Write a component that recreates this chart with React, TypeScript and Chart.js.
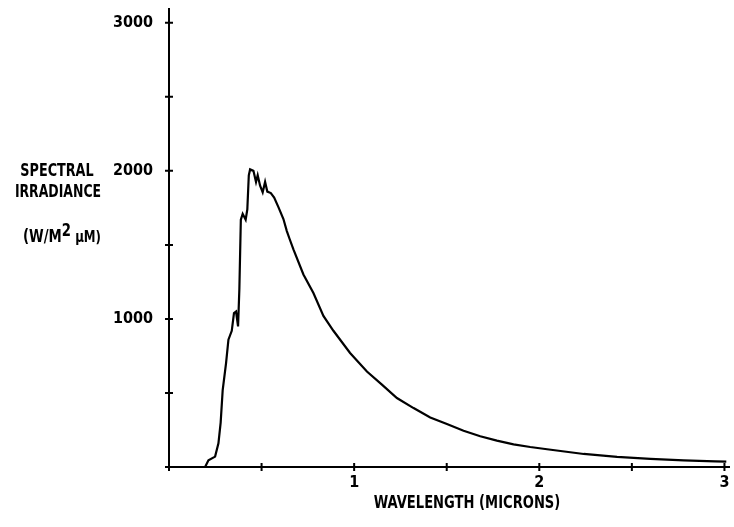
import React, { useEffect, useRef } from "react";
import { Chart, registerables } from "chart.js";

Chart.register(...registerables);

// Wavelength in microns
const wavelength = [
  0.195, 0.213, 0.249, 0.267, 0.279, 0.29, 0.308, 0.321, 0.339, 0.351, 0.362, 0.373,
  0.38, 0.388, 0.398, 0.414, 0.423, 0.431, 0.438, 0.456, 0.47, 0.479, 0.492, 0.506,
  0.519, 0.531, 0.55, 0.568, 0.591, 0.618, 0.636, 0.65, 0.672, 0.726, 0.78, 0.834,
  0.888, 0.978, 1.069, 1.15, 1.231, 1.321, 1.411, 1.501, 1.591, 1.681, 1.771, 1.861,
  1.951, 2.042, 2.24, 2.42, 2.6, 2.78, 2.95, 3.01,
];

// Spectral irradiance, W/m^2 um
const irradiance = [
  0, 45, 70, 160, 300, 520, 700, 860, 920, 1040, 1050, 950,
  1200, 1670, 1710, 1670, 1740, 1970, 2010, 2000, 1925, 1970, 1900, 1855,
  1925, 1860, 1850, 1820, 1755, 1675, 1595, 1545, 1470, 1300, 1175, 1020,
  920, 770, 645, 556, 466, 398, 335, 290, 245, 208, 178, 153,
  135, 120, 88, 68, 55, 45, 38, 36,
];

const xTicks = [0, 0.5, 1, 1.5, 2, 2.5, 3];
const yTicks = [0, 500, 1000, 1500, 2000, 2500, 3000];
const xLabelled = [1, 2, 3];
const yLabelled = [1000, 2000, 3000];

const yTitleLine1 = "SPECTRAL";
const yTitleLine2 = "IRRADIANCE";
const yUnitsA = "(W/M";
const yUnitsSup = "2";
const yUnitsB = " \u00B5M)";
const xTitle = "WAVELENGTH (MICRONS)";

const FONT_FAMILY = "'DejaVu Sans Condensed', 'DejaVu Sans', sans-serif";

const axesPlugin = {
  id: "crossAxes",
  afterDraw(chart: any) {
    const { ctx, scales } = chart;
    const xs = scales.x;
    const ys = scales.y;
    const ax = xs.left;
    const ay = ys.bottom;
    ctx.save();
    ctx.strokeStyle = "#000";
    ctx.lineWidth = 2;
    ctx.lineCap = "butt";
    ctx.beginPath();
    ctx.moveTo(ax, ys.top);
    ctx.lineTo(ax, ay);
    ctx.lineTo(xs.right, ay);
    ctx.stroke();
    ctx.beginPath();
    for (const v of yTicks) {
      const p = ys.getPixelForValue(v);
      ctx.moveTo(ax - 4, p);
      ctx.lineTo(ax + 4, p);
    }
    for (const v of xTicks) {
      const p = xs.getPixelForValue(v);
      ctx.moveTo(p, ay - 4);
      ctx.lineTo(p, ay + 4);
    }
    ctx.stroke();
    ctx.restore();
  },
};

const textStyle = (sx: number): React.CSSProperties => ({
  position: "absolute",
  transform: `translate(-50%, -50%) scaleX(${sx})`,
  whiteSpace: "nowrap",
  lineHeight: 1,
  fontFamily: FONT_FAMILY,
  fontWeight: "bold",
  fontSize: 18,
  color: "#000",
});

const zeroPad = (s: any) => {
  s.paddingTop = 0;
  s.paddingBottom = 0;
  s.paddingLeft = 0;
  s.paddingRight = 0;
};

export default function App() {
  const canvasRef = useRef<HTMLCanvasElement | null>(null);

  useEffect(() => {
    if (!canvasRef.current) return;
    const points = wavelength.map((x, i) => ({ x, y: irradiance[i] }));
    const chart = new Chart(canvasRef.current, {
      type: "line",
      data: {
        datasets: [
          {
            data: points,
            borderColor: "#000",
            borderWidth: 2.2,
            pointRadius: 0,
            tension: 0,
            fill: false,
          },
        ],
      },
      options: {
        animation: false,
        responsive: false,
        devicePixelRatio: 1,
        layout: { padding: { top: 8, right: 4, left: 0, bottom: 0 } },
        plugins: {
          legend: { display: false },
          tooltip: { enabled: false },
          title: { display: false },
        },
        scales: {
          x: {
            type: "linear",
            min: 0,
            max: 3.03,
            afterBuildTicks: (s: any) => {
              s.ticks = xTicks.map((value) => ({ value }));
            },
            afterFit: (s: any) => {
              s.height = 60;
              zeroPad(s);
            },
            grid: { display: false, drawTicks: false },
            border: { display: false },
            ticks: {
              autoSkip: false,
              maxRotation: 0,
              padding: 6,
              color: "#000",
              font: { family: FONT_FAMILY, size: 16, weight: "bold" },
              callback: (v: any) => (xLabelled.includes(Number(v)) ? String(v) : ""),
            },
          },
          y: {
            type: "linear",
            min: 0,
            max: 3100,
            afterBuildTicks: (s: any) => {
              s.ticks = yTicks.map((value) => ({ value }));
            },
            afterFit: (s: any) => {
              s.width = 169;
              zeroPad(s);
            },
            grid: { display: false, drawTicks: false },
            border: { display: false },
            ticks: {
              autoSkip: false,
              padding: 16,
              color: "#000",
              font: { family: FONT_FAMILY, size: 16, weight: "bold" },
              callback: (v: any) => (yLabelled.includes(Number(v)) ? String(v) : ""),
            },
          },
        },
      },
      plugins: [axesPlugin],
    });
    return () => chart.destroy();
  }, []);

  return (
    <div
      style={{
        position: "fixed",
        left: 0,
        top: 0,
        width: 734,
        height: 527,
        background: "#fff",
      }}
    >
      <canvas ref={canvasRef} width={734} height={527} style={{ display: "block" }} />
      <div style={{ ...textStyle(0.79), left: 57, top: 170 }}>{yTitleLine1}</div>
      <div style={{ ...textStyle(0.77), left: 58, top: 191 }}>{yTitleLine2}</div>
      <div style={{ ...textStyle(0.82), left: 62, top: 233 }}>
        {yUnitsA}
        <sup style={{ fontSize: 18, verticalAlign: 6, lineHeight: 1 }}>{yUnitsSup}</sup>
        <span style={{ fontSize: 16 }}>{yUnitsB}</span>
      </div>
      <div style={{ ...textStyle(0.81), left: 467, top: 502 }}>{xTitle}</div>
    </div>
  );
}
